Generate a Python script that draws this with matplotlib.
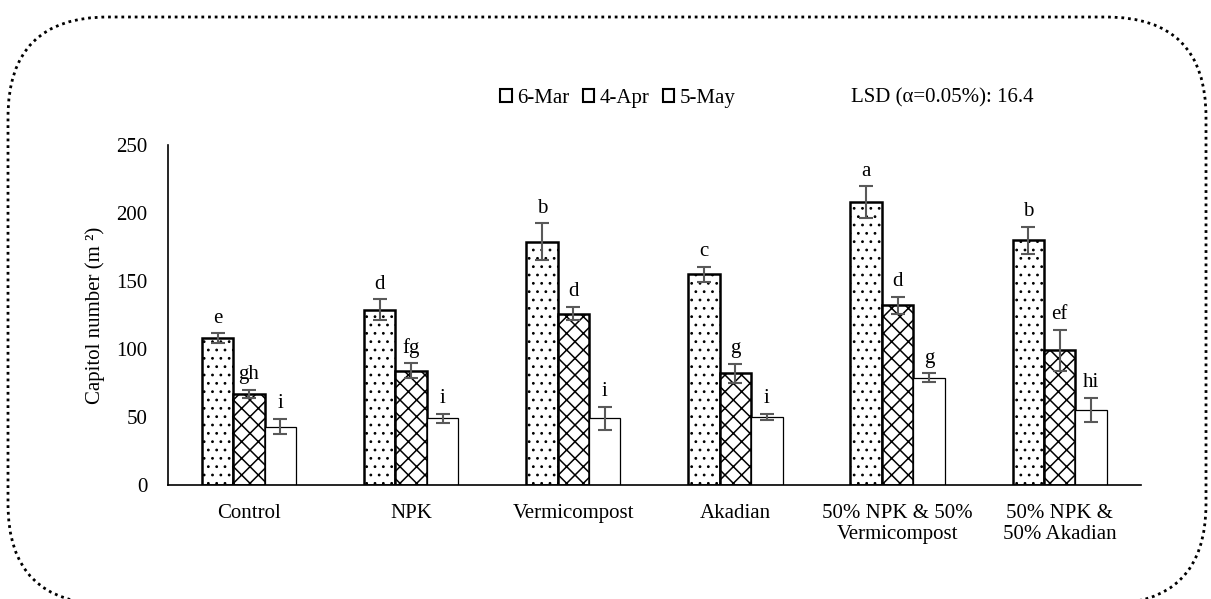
import numpy as np
import matplotlib.pyplot as plt
import matplotlib.patches as patches
from matplotlib.transforms import IdentityTransform

plt.rcParams['font.family'] = ['Liberation Serif', 'DejaVu Serif']

treatments = ["Control", "NPK", "Vermicompost", "Akadian",
              "50% NPK & 50%\nVermicompost", "50% NPK &\n50% Akadian"]
dates = ["6-Mar", "4-Apr", "5-May"]

mar = [108, 129, 179, 155, 208, 180]
apr = [67, 84, 126, 82, 132, 99]
may = [43, 49, 49, 50, 79, 55]

mar_err = [3.5, 7.5, 13.5, 5.5, 11.5, 10]
apr_err = [3, 5.5, 5, 7, 6.5, 15]
may_err = [5.5, 3.3, 8.5, 2.5, 3, 9]

mar_let = ["e", "d", "b", "c", "a", "b"]
apr_let = ["gh", "fg", "d", "g", "d", "ef"]
may_let = ["i", "i", "i", "i", "g", "hi"]

lsd_text = "LSD (\u03b1=0.05%): 16.4"

fig = plt.figure(figsize=(12.11, 5.99), dpi=100)
ax = fig.add_axes([0.1387, 0.1903, 0.942 - 0.1387, 0.758 - 0.1903])

x = np.arange(len(treatments))
w = 0.194
# values, errors, letters, hatch, edge width, hatch width
series = [(mar, mar_err, mar_let, '..', 1.8, 0.8),
          (apr, apr_err, apr_let, 'xx', 1.8, 1.1),
          (may, may_err, may_let, None, 0.9, 1.0)]

handles = []
for i, (vals, errs, lets, hatch, lw, hlw) in enumerate(series):
    pos = x + (i - 1) * w
    with plt.rc_context({'hatch.linewidth': hlw}):
        b = ax.bar(pos, vals, w, color='white', edgecolor='black', hatch=hatch,
                   linewidth=lw, label=dates[i], zorder=2)
    handles.append(b)
    ax.errorbar(pos, vals, yerr=errs, fmt='none', ecolor='#595959',
                elinewidth=1.5, capsize=5, capthick=1.5, zorder=3)
    for p, v, e, t in zip(pos, vals, errs, lets):
        ax.annotate(t, (p, v + e), xytext=(0, 4), textcoords='offset points',
                    ha='center', va='bottom', fontsize=15)

ax.set_xlim(-0.5, len(treatments) - 0.5)
ax.set_ylim(0, 250)
ax.set_yticks([0, 50, 100, 150, 200, 250])
ax.set_xticks(x)
ax.set_xticklabels(treatments, fontsize=15, linespacing=1.12)
ax.tick_params(axis='both', length=0, labelsize=15)
ax.tick_params(axis='y', pad=15)
ax.tick_params(axis='x', pad=14)
for s in ['top', 'right']:
    ax.spines[s].set_visible(False)
for s in ['left', 'bottom']:
    ax.spines[s].set_linewidth(1.2)
ax.set_ylabel("Capitol number (m \u00b2)", fontsize=15, labelpad=8)

leg = fig.legend(handles, dates, loc='center', bbox_to_anchor=(0.51, 0.836),
                 ncol=3, frameon=False, fontsize=15, handlelength=0.55,
                 handleheight=0.55, handletextpad=0.25, columnspacing=0.65)
for h in leg.legend_handles:
    h.set_hatch(None)
    h.set_linewidth(1.5)
fig.text(0.7025, 0.836, lsd_text, fontsize=15, va='center', ha='left')

# rounded dotted frame, in pixels (bottom runs off the image)
border = patches.FancyBboxPatch((8, -5), 1198, 587,
                                boxstyle="round,pad=0,rounding_size=100",
                                transform=IdentityTransform(), fill=False,
                                edgecolor='black', linestyle=(0, (1, 1.4)),
                                linewidth=2.0)
fig.patches.append(border)

fig.savefig("out.png", dpi=100)
